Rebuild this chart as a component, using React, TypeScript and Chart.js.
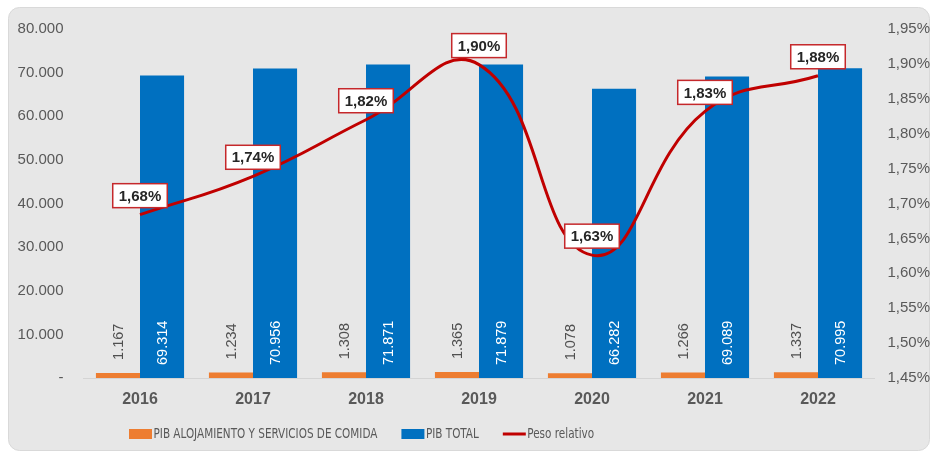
import React, { useEffect, useRef } from 'react';
import { Chart, registerables } from 'chart.js';

Chart.register(...registerables);

const years = ['2016', '2017', '2018', '2019', '2020', '2021', '2022'];
const pibAlojamiento = [1167, 1234, 1308, 1365, 1078, 1266, 1337];
const pibTotal = [69314, 70956, 71871, 71879, 66282, 69089, 70995];
const pesoRelativo = [1.684, 1.739, 1.82, 1.899, 1.626, 1.832, 1.883];
const seriesNames = ['PIB ALOJAMIENTO Y SERVICIOS DE COMIDA', 'PIB TOTAL', 'Peso relativo'];

const ORANGE = '#ED7D31';
const BLUE = '#0070C0';
const RED = '#C00000';
const GRAY = '#595959';
const SANS = '"Liberation Sans", Arial, sans-serif';
const NARROW = '"Liberation Sans Narrow", "DejaVu Sans Condensed", "Liberation Sans", sans-serif';

const fmtThousands = (n: number) => String(Math.round(n)).replace(/\B(?=(\d{3})+(?!\d))/g, '.');
const fmtPct = (n: number) => n.toFixed(2).replace('.', ',') + '%';

const panelPlugin = {
  id: 'panel',
  beforeDraw(chart: any) {
    const ctx = chart.ctx;
    ctx.save();
    ctx.fillStyle = '#ffffff';
    ctx.fillRect(0, 0, chart.width, chart.height);
    const x = 8.5, y = 7.5, w = 921, h = 443, r = 11;
    ctx.beginPath();
    ctx.moveTo(x + r, y);
    ctx.arcTo(x + w, y, x + w, y + h, r);
    ctx.arcTo(x + w, y + h, x, y + h, r);
    ctx.arcTo(x, y + h, x, y, r);
    ctx.arcTo(x, y, x + w, y, r);
    ctx.closePath();
    ctx.fillStyle = '#e7e7e7';
    ctx.fill();
    ctx.strokeStyle = '#d9d9d9';
    ctx.lineWidth = 1;
    ctx.stroke();
    ctx.restore();
  },
};

const labelsPlugin = {
  id: 'valueLabels',
  afterDatasetsDraw(chart: any) {
    const ctx = chart.ctx;
    ctx.save();
    // bar labels
    [0, 1].forEach((di) => {
      const meta = chart.getDatasetMeta(di);
      const data = chart.data.datasets[di].data as number[];
      meta.data.forEach((el: any, i: number) => {
        const startY = di === 0 ? el.y - 13 : el.base - 13;
        ctx.save();
        ctx.translate(el.x, startY);
        ctx.rotate(-Math.PI / 2);
        ctx.font = `14.5px ${SANS}`;
        ctx.fillStyle = di === 0 ? '#505050' : '#ffffff';
        ctx.textAlign = 'left';
        ctx.textBaseline = 'middle';
        ctx.fillText(fmtThousands(data[i]), 0, 1);
        ctx.restore();
      });
    });
    // line labels
    const lmeta = chart.getDatasetMeta(2);
    const ldata = chart.data.datasets[2].data as number[];
    ctx.font = `bold 15px ${SANS}`;
    lmeta.data.forEach((el: any, i: number) => {
      const txt = fmtPct(ldata[i]);
      const tw = ctx.measureText(txt).width;
      const bw = tw + 12;
      const bh = 24;
      const bx = el.x - bw / 2;
      const by = el.y - 7 - bh;
      ctx.fillStyle = '#ffffff';
      ctx.fillRect(bx, by, bw, bh);
      ctx.strokeStyle = '#C5282B';
      ctx.lineWidth = 1.5;
      ctx.strokeRect(bx, by, bw, bh);
      ctx.fillStyle = '#262626';
      ctx.textAlign = 'center';
      ctx.textBaseline = 'middle';
      ctx.fillText(txt, el.x, by + bh / 2 + 1);
    });
    ctx.restore();
  },
  afterDraw(chart: any) {
    const ctx = chart.ctx;
    ctx.save();
    ctx.font = `13.5px ${NARROW}`;
    ctx.textBaseline = 'middle';
    ctx.textAlign = 'left';
    const cy = 434;
    const sx = 0.86;
    let x = 129;
    const colors = [ORANGE, BLUE, RED];
    seriesNames.forEach((name, i) => {
      if (i < 2) {
        ctx.fillStyle = colors[i];
        ctx.fillRect(x, cy - 5, 23, 10);
      } else {
        ctx.strokeStyle = colors[i];
        ctx.lineWidth = 3;
        ctx.beginPath();
        ctx.moveTo(x, cy);
        ctx.lineTo(x + 23, cy);
        ctx.stroke();
      }
      x += 24.5;
      ctx.save();
      ctx.translate(x, cy);
      ctx.scale(sx, 1);
      ctx.fillStyle = GRAY;
      ctx.fillText(name, 0, 0);
      ctx.restore();
      x += ctx.measureText(name).width * sx + 24;
    });
    ctx.restore();
  },
};

export default function App() {
  const ref = useRef<HTMLCanvasElement | null>(null);
  useEffect(() => {
    if (!ref.current) return;
    const chart = new Chart(ref.current, {
      type: 'bar',
      data: {
        labels: years,
        datasets: [
          {
            type: 'bar',
            label: seriesNames[0],
            data: pibAlojamiento,
            backgroundColor: ORANGE,
            yAxisID: 'y',
            order: 1,
            categoryPercentage: 0.78,
            barPercentage: 1,
          },
          {
            type: 'bar',
            label: seriesNames[1],
            data: pibTotal,
            backgroundColor: BLUE,
            yAxisID: 'y',
            order: 1,
            categoryPercentage: 0.78,
            barPercentage: 1,
          },
          {
            type: 'line',
            label: seriesNames[2],
            data: pesoRelativo,
            borderColor: RED,
            backgroundColor: RED,
            borderWidth: 3,
            pointRadius: 0,
            tension: 0.45,
            yAxisID: 'y1',
            order: 0,
          } as any,
        ],
      },
      options: {
        responsive: false,
        animation: false,
        devicePixelRatio: 1,
        layout: { padding: { top: 25, left: 0, right: 0, bottom: 0 } },
        plugins: {
          legend: { display: false },
          tooltip: { enabled: false },
        },
        scales: {
          x: {
            grid: { display: false, drawTicks: false },
            border: { display: true, color: '#d4d4d4', width: 1 },
            ticks: {
              color: GRAY,
              font: { family: SANS, size: 16, weight: 'bold' },
              padding: 12,
            },
            afterFit: (s: any) => {
              s.height = 74;
            },
          },
          y: {
            position: 'left',
            min: 0,
            max: 80000,
            grid: { display: false, drawTicks: false },
            border: { display: false },
            ticks: {
              stepSize: 10000,
              color: GRAY,
              font: { family: SANS, size: 15 },
              padding: 20,
              callback: (v: any) => (Number(v) === 0 ? '-' : fmtThousands(Number(v))),
            },
            afterFit: (s: any) => {
              s.width = 83.5;
            },
          },
          y1: {
            position: 'right',
            min: 1.45,
            max: 1.95,
            grid: { display: false, drawTicks: false },
            border: { display: false },
            ticks: {
              stepSize: 0.05,
              color: GRAY,
              font: { family: SANS, size: 15 },
              padding: 13,
              callback: (v: any) => fmtPct(Number(v)),
            },
            afterFit: (s: any) => {
              s.width = 56.5;
            },
          },
        },
      } as any,
      plugins: [panelPlugin, labelsPlugin],
    });
    return () => chart.destroy();
  }, []);
  return (
    <div style={{ position: 'absolute', left: 0, top: 0, width: 931, height: 452 }}>
      <canvas ref={ref} width={931} height={452} style={{ display: 'block', width: 931, height: 452 }} />
    </div>
  );
}
